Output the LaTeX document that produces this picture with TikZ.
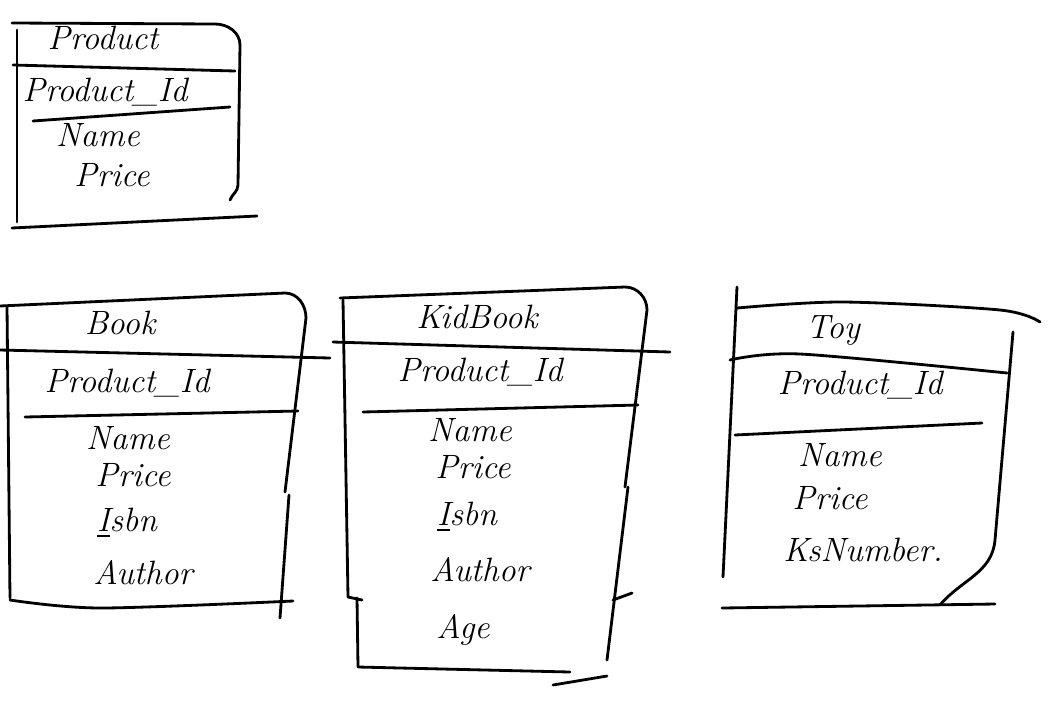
\documentclass[tikz,border=0pt]{standalone}
\usepackage{amsmath,amssymb}
\usepackage{tikz}

\begin{document}
\begin{tikzpicture}[x=0.025cm,y=-0.025cm,
  pen/.style={line width=2pt,line cap=round,line join=round},
  hand/.style={font=\fontsize{24}{28}\selectfont\itshape,inner sep=0pt}]
\useasboundingbox (0,0) rectangle (1051,700);
\draw[pen] (12,23) -- (215,24) to[out=0,in=90] (240,45) -- (238,185) to[out=-90,in=70] (230,200);
\draw[pen] (17,30) -- (17,222);
\draw[pen] (13,65) -- (235,71);
\draw[pen] (33,121) -- (230,107);
\draw[pen] (12,228) -- (257,216);
\node[hand] (prodTitle) at (103,38) {Product};
\node[hand] (prodId) at (105,92) {Product\_Id};
\node[hand] (prodName) at (98,135) {Name};
\node[hand] (prodPrice) at (112,175) {Price};

\draw[pen] (0,306) -- (285,293) to[out=0,in=90] (306,318) -- (285,492);
\draw[pen] (289,495) -- (280,618);
\draw[pen] (7,306) -- (10,598);
\draw[pen] plot[smooth] coordinates {(10,600) (100,608) (293,601)};
\draw[pen] (0,350) -- (330,358);
\draw[pen] (25,417) -- (298,411);
\node[hand] (bookTitle) at (120,323) {Book};
\node[hand] (bookId) at (127,383) {Product\_Id};
\node[hand] (bookName) at (128,438) {Name};
\node[hand] (bookPrice) at (133,475) {Price};
\node[hand] (bookIsbn) at (127,523) {\underline{I}sbn};
\node[hand] (bookAuthor) at (143,573) {Author};

\draw[pen] (340,298) -- (625,287) to[out=0,in=90] (647,310) -- (625,487);
\draw[pen] (628,487) -- (607,660);
\draw[pen] (613,600) -- (632,593);
\draw[pen] (343,300) -- (348,597) -- (362,600);
\draw[pen] (357,598) -- (358,667) -- (570,672);
\draw[pen] (553,685) -- (607,676);
\draw[pen] (333,342) -- (670,352);
\draw[pen] (363,412) -- (638,405);
\node[hand] (kidTitle) at (477,317) {KidBook};
\node[hand] (kidId) at (480,372) {Product\_Id};
\node[hand] (kidName) at (470,430) {Name};
\node[hand] (kidPrice) at (473,467) {Price};
\node[hand] (kidIsbn) at (467,517) {\underline{I}sbn};
\node[hand] (kidAuthor) at (480,570) {Author};
\node[hand] (kidAge) at (463,630) {Age};

\draw[pen] (737,287) -- (723,577);
\draw[pen] plot[smooth] coordinates {(737,308) (843,302) (1000,310) (1040,322)};
\draw[pen] plot[smooth] coordinates {(730,360) (800,354) (1007,373)};
\draw[pen] (1013,332) -- (995,540) to[out=-95,in=50] (940,605);
\draw[pen] (735,435) -- (982,423);
\draw[pen] (722,608) -- (995,604);
\node[hand] (toyTitle) at (833,330) {Toy};
\node[hand] (toyId) at (860,385) {Product\_Id};
\node[hand] (toyName) at (840,455) {Name};
\node[hand] (toyPrice) at (830,498) {Price};
\node[hand] (toyNumber) at (863,550) {KsNumber.};
\end{tikzpicture}
\end{document}
